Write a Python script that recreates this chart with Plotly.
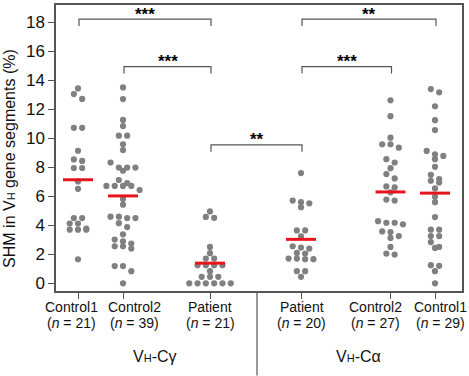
import numpy as np
import plotly.graph_objects as go

# ---------------- data ----------------
groups = ["Control1", "Control2", "Patient", "Patient", "Control2", "Control1"]
n_labels = ["21", "39", "21", "20", "27", "29"]
isotypes = ["γ", "α"]

c1_gamma = [13.45, 13.06, 12.73, 10.73, 10.73, 9.15, 8.55, 8.45, 7.96, 7.96, 7.03,
            6.52, 4.5, 4.5, 4.13, 4.13, 3.78, 3.7, 3.7, 3.7, 1.66]
c2_gamma = [13.52, 12.72, 11.28, 10.85, 10.19, 10.19, 9.6, 9.2, 8.34, 7.99, 7.99, 7.99,
            7.77, 7.13, 6.92, 6.72, 6.72, 6.72, 6.72, 6.44, 5.82, 5.43, 4.6, 4.6, 4.5, 4.5,
            4.15, 3.88, 3.38, 3.02, 2.9, 2.74, 2.56, 2.56, 2.4, 1.19, 1.19, 0.84, 0.0]
pt_gamma = [4.96, 4.52, 4.58, 2.51, 2.08, 1.71, 1.71, 1.25, 1.25, 1.25, 1.25, 0.84,
            0.45, 0.45, 0.45, 0.0, 0.0, 0.0, 0.0, 0.0, 0.0]
pt_alpha = [7.61, 5.71, 5.6, 5.52, 5.25, 3.65, 3.65, 3.24, 2.56, 2.47, 2.4, 2.1, 2.05,
            1.71, 1.71, 1.67, 1.67, 0.84, 0.84, 0.45]
c2_alpha = [12.63, 11.54, 10.05, 9.6, 9.6, 9.36, 8.57, 8.34, 7.95, 7.54, 7.24, 6.69, 6.62,
            6.28, 5.78, 5.71, 4.29, 4.18, 4.18, 4.07, 3.58, 3.54, 3.26, 3.13, 2.51, 2.05, 1.99]
c1_alpha = [13.41, 13.18, 12.22, 11.26, 10.58, 9.14, 8.91, 8.79, 8.57, 8.04, 7.49, 7.2,
            7.08, 6.96, 6.55, 5.98, 5.6, 4.57, 3.7, 3.7, 3.26, 3.26, 2.85, 2.51, 2.44,
            1.25, 1.21, 0.84, 0.0]
series = [c1_gamma, c2_gamma, pt_gamma, pt_alpha, c2_alpha, c1_alpha]

# comparisons: (group i, group j, bracket level, label)
comparisons = [(0, 2, 18.23, "***"), (1, 2, 14.96, "***"), (2, 3, 9.55, "**"),
               (3, 4, 14.96, "***"), (3, 5, 18.23, "**")]

# ---------------- layout constants ----------------
W, H = 469, 376
ML, MR, MT, MB = 56, 7, 3, 85
PW, PH = W - ML - MR, H - MT - MB
YR = [-0.53, 19.21]
positions = [22, 67, 154, 245, 334.5, 379]          # category centres (x axis units = px)
label_x = [15.7, 78.5, 154, 245.7, 319, 384]         # tick label centres
divider_x = 201
group_label_x = [99, 302]
GREY = "#808080"
FRAME = "#555555"
RED = "#e8141c"
FONT = "Liberation Sans, Arial, Helvetica, sans-serif"

ypx = PH / (YR[1] - YR[0])
STEP = 8.3          # horizontal spacing between dots in a row (px)
ROW_H = 5.2         # vertical extent of a row (px)


def rows_layout(vals):
    """Group nearby values into rows and centre each row horizontally."""
    vals = np.asarray(vals, float)
    order = np.argsort(-vals, kind="stable")
    offs = np.zeros(len(vals))
    rows, cur, start = [], [], None
    for i in order:
        if start is None or (start - vals[i]) * ypx < ROW_H:
            if start is None:
                start = vals[i]
            cur.append(i)
        else:
            rows.append(cur)
            cur, start = [i], vals[i]
    rows.append(cur)
    for r in rows:
        n = len(r)
        for k, i in enumerate(r):
            offs[i] = (k - (n - 1) / 2) * STEP
    return offs


fig = go.Figure()
for pos, vals in zip(positions, series):
    offs = rows_layout(vals)
    fig.add_trace(go.Scatter(x=pos + offs, y=vals, mode="markers",
                             marker=dict(color=GREY, size=6.2, line=dict(width=0)),
                             showlegend=False, hoverinfo="skip"))
for pos, vals in zip(positions, series):
    m = float(np.mean(vals))
    fig.add_trace(go.Scatter(x=[pos - 15, pos + 15], y=[m, m], mode="lines",
                             line=dict(color=RED, width=3), showlegend=False,
                             hoverinfo="skip"))

annotations = []
for i, j, lvl, lab in comparisons:
    x0, x1 = positions[i] + 1, positions[j] + 1
    fig.add_trace(go.Scatter(x=[x0, x0, x1, x1], y=[lvl - 0.47, lvl, lvl, lvl - 0.47],
                             mode="lines", line=dict(color=FRAME, width=1.2),
                             showlegend=False, hoverinfo="skip"))
    annotations.append(dict(x=(x0 + x1) / 2, y=lvl, xref="x", yref="y", text="<b>" + lab + "</b>",
                            showarrow=False, yanchor="middle", yshift=5,
                            font=dict(family=FONT, size=17, color="#000")))

for k in range(6):
    annotations.append(dict(x=label_x[k], y=-15.7 / PH, xref="x", yref="paper",
                            text=groups[k], showarrow=False, yanchor="middle",
                            font=dict(family=FONT, size=14, color="#111")))
    annotations.append(dict(x=label_x[k], y=-32.3 / PH, xref="x", yref="paper",
                            text="(<i>n</i> = " + n_labels[k] + ")", showarrow=False,
                            yanchor="middle", font=dict(family=FONT, size=14, color="#111")))

for gx, iso in zip(group_label_x, isotypes):
    annotations.append(dict(x=gx, y=-65.7 / PH, xref="x", yref="paper",
                            text='V<span style="font-size:11px">H</span>-C' + iso,
                            showarrow=False, yanchor="middle",
                            font=dict(family=FONT, size=16, color="#111")))

annotations.append(dict(x=-46 / PW, y=(291 - 155 - MT) / PH, xref="paper", yref="paper",
                        text='SHM in V<span style="font-size:11px">H</span> gene segments (%)',
                        textangle=-90, showarrow=False, xanchor="center", yanchor="middle",
                        font=dict(family=FONT, size=16, color="#111")))

fig.add_shape(type="line", xref="paper", yref="paper", x0=divider_x / PW, x1=divider_x / PW,
              y0=0, y1=-MB / PH, line=dict(color=FRAME, width=1.2))

fig.update_layout(
    width=W, height=H, margin=dict(l=ML, r=MR, t=MT, b=MB),
    plot_bgcolor="white", paper_bgcolor="white",
    annotations=annotations,
    xaxis=dict(range=[0, PW], showgrid=False, zeroline=False, showline=True, mirror=True,
               linecolor=FRAME, linewidth=1.5, ticks="outside", ticklen=6, tickwidth=1.2,
               tickcolor=FRAME, tickvals=positions, showticklabels=False),
    yaxis=dict(range=YR, showgrid=False, zeroline=False, showline=True, mirror=True,
               linecolor=FRAME, linewidth=1.5, ticks="outside", ticklen=6, tickwidth=1.2,
               tickcolor=FRAME, tickvals=list(range(0, 19, 2)),
               tickfont=dict(family=FONT, size=17, color="#111")),
    font=dict(family=FONT),
)

fig.write_html("out.html", config={"displayModeBar": False},
               post_script="document.body.style.margin='0';document.body.style.padding='0';")
